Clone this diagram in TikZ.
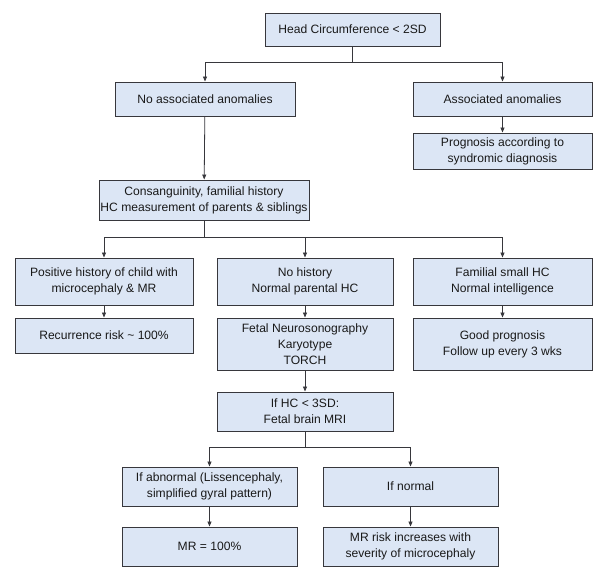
\documentclass[tikz,border=0pt]{standalone}
\usepackage{fontspec}
\setmainfont{Liberation Sans}
\usetikzlibrary{arrows.meta}
\definecolor{boxblue}{RGB}{220,230,245}
\definecolor{edge}{RGB}{55,55,60}
\begin{document}
\begin{tikzpicture}[x=1pt,y=-1pt,
  fbox/.style={draw=edge,line width=0.9pt,fill=boxblue,align=center,inner sep=0pt,
    font=\fontsize{12.1}{16}\selectfont,text=black!90},
  conn/.style={draw=edge,line width=0.8pt},
  arr/.style={conn,-{Triangle[length=5pt,width=4pt]}}]
\useasboundingbox (0,0) rectangle (600,577);
\fill[white] (0,0) rectangle (600,577);
% boxes: centre, width, height
\node[fbox,minimum width=175,minimum height=33] (hc) at (352.5,29.5) {Head Circumference < 2SD};
\node[fbox,minimum width=180,minimum height=34] (noassoc) at (205,99) {No associated anomalies};
\node[fbox,minimum width=179,minimum height=34] (assoc) at (502.5,99) {Associated anomalies};
\node[fbox,minimum width=179,minimum height=36] (progn) at (502.5,151) {Prognosis according to\\syndromic diagnosis};
\node[fbox,minimum width=210,minimum height=40] (cons) at (204,200) {Consanguinity, familial history\\HC measurement of parents \& siblings};
\node[fbox,minimum width=178,minimum height=47] (pos) at (104,281.5) {Positive history of child with\\microcephaly \& MR};
\node[fbox,minimum width=176,minimum height=47] (nohist) at (305,281.5) {No history\\Normal parental HC};
\node[fbox,minimum width=179,minimum height=47] (fam) at (502.5,281.5) {Familial small HC\\Normal intelligence};
\node[fbox,minimum width=178,minimum height=35] (recur) at (104,335.5) {Recurrence risk \textasciitilde\ 100\%};
\node[fbox,minimum width=176,minimum height=52] (fetal) at (305,344) {Fetal Neurosonography\\Karyotype\\TORCH};
\node[fbox,minimum width=179,minimum height=52] (good) at (502.5,344) {Good prognosis\\Follow up every 3 wks};
\node[fbox,minimum width=176,minimum height=39] (mri) at (305,411.5) {If HC < 3SD:\\Fetal brain MRI};
\node[fbox,minimum width=175,minimum height=39] (abn) at (209.5,486.5) {If abnormal (Lissencephaly,\\simplified gyral pattern)};
\node[fbox,minimum width=175,minimum height=39] (norm) at (410.5,486.5) {If normal};
\node[fbox,minimum width=175,minimum height=39] (mr100) at (209.5,546.5) {MR = 100\%};
\node[fbox,minimum width=175,minimum height=39] (mrrisk) at (410.5,546.5) {MR risk increases with\\severity of microcephaly};
% junctions
\coordinate (j1) at (352.5,62);
\coordinate (j2) at (204,237);
\coordinate (j3) at (305,447);
% connectors
\draw[conn] (hc.south) -- (j1);
\draw[arr] (j1) -| (noassoc.north);
\draw[arr] (j1) -| (assoc.north);
\draw[arr] (assoc) -- (progn);
\draw[arr] (noassoc) -- (cons);
\draw[conn] (cons.south) -- (j2);
\draw[arr] (j2) -| (pos.north);
\draw[arr] (j2) -| (nohist.north);
\draw[arr] (j2) -| (fam.north);
\draw[arr] (pos) -- (recur);
\draw[arr] (nohist) -- (fetal);
\draw[arr] (fam) -- (good);
\draw[arr] (fetal) -- (mri);
\draw[conn] (mri.south) -- (j3);
\draw[arr] (j3) -| (abn.north);
\draw[arr] (j3) -| (norm.north);
\draw[arr] (abn) -- (mr100);
\draw[arr] (norm) -- (mrrisk);
\end{tikzpicture}
\end{document}
